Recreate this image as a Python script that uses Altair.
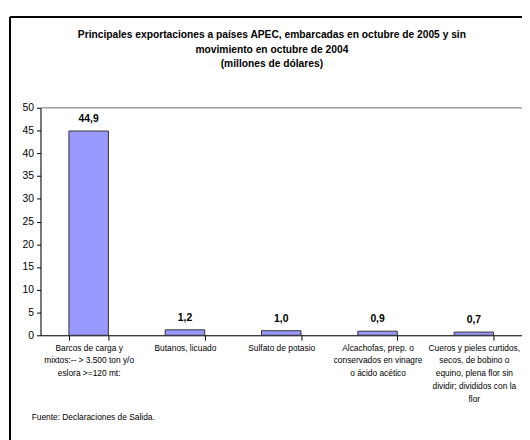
import altair as alt
import pandas as pd

categories = [
    "Barcos de carga y|mixtos:-- > 3.500 ton y/o|eslora >=120 mt:",
    "Butanos, licuado",
    "Sulfato de potasio",
    "Alcachofas, prep. o|conservados en vinagre|o ácido acético",
    "Cueros y pieles curtidos,|secos, de bobino o|equino, plena flor sin|dividir; divididos con la|flor",
]
values = [44.9, 1.2, 1.0, 0.9, 0.7]
title_lines = [
    "Principales exportaciones a países APEC, embarcadas en octubre de 2005 y sin",
    "movimiento en octubre de 2004",
    "(millones de dólares)",
]
source_note = ["Fuente: Declaraciones de Salida."]
y_ticks = list(range(0, 51, 5))
y_max = [50]

FONT = "Liberation Sans"
df = pd.DataFrame({"cat": categories, "val": values})

x_enc = alt.X(
    "cat:N",
    sort=categories,
    title=None,
    scale=alt.Scale(paddingInner=0.59, paddingOuter=0.295),
    axis=alt.Axis(
        labelExpr="split(datum.label, '|')",
        labelAngle=0,
        labelFont=FONT,
        labelFontSize=8.5,
        labelLineHeight=13,
        labelColor="black",
        labelPadding=3,
        labelLimit=0,
        tickBand="extent",
        tickSize=5,
        tickColor="black",
        domainColor="black",
        labelBaseline="top",
    ),
)
y_axis = alt.Axis(
    values=y_ticks,
    tickCount=11,
    grid=False,
    labelFont=FONT,
    labelFontSize=10.5,
    labelColor="black",
    tickColor="black",
    tickSize=4,
    domainColor="black",
    labelPadding=3,
    labelOverlap=False,
)
y_enc = alt.Y("val:Q", title=None, scale=alt.Scale(domain=[0, 50], nice=False), axis=y_axis)

bars = alt.Chart(df).mark_bar(
    color="#9999FF", stroke="#333333", strokeWidth=1
).encode(x=x_enc, y=y_enc)

labels = alt.Chart(df).transform_calculate(
    lbl="replace(format(datum.val, '.1f'), '.', ',')"
).mark_text(
    font=FONT, fontSize=10.5, fontWeight="bold", color="black",
    baseline="alphabetic", dy=-9
).encode(x=alt.X("cat:N", sort=categories), y=y_enc, text="lbl:N")

top_line = alt.Chart(pd.DataFrame({"val": y_max})).mark_rule(
    color="#808080", strokeWidth=1
).encode(y=y_enc)

frame_left = alt.Chart(df).mark_rule(color="black", strokeWidth=1.5).encode(
    x=alt.value(-31), y=alt.value(-92), y2=alt.value(400)
)
frame_top = alt.Chart(df).mark_rule(color="black", strokeWidth=1.5).encode(
    x=alt.value(-31), x2=alt.value(600), y=alt.value(-92)
)

title_df = pd.DataFrame({"t": ["\n".join(title_lines)]})
title = alt.Chart(title_df).mark_text(
    font=FONT, fontSize=10.4, fontWeight="bold", color="black",
    align="center", baseline="top", lineBreak="\n", lineHeight=15
).encode(x=alt.value(235), y=alt.value(-79), text="t:N")

note = alt.Chart(pd.DataFrame({"t": source_note})).mark_text(
    font=FONT, fontSize=8.5, color="black", align="left", baseline="middle"
).encode(x=alt.value(-9), y=alt.value(314), text="t:N")

chart = alt.layer(bars, top_line, labels, frame_left, frame_top, title, note).properties(
    width=489,
    height=231,
    padding={"left": 33, "top": 98, "right": 0, "bottom": 103},
    autosize=alt.AutoSizeParams(type="none"),
).configure_view(stroke=None).configure(background="white")

chart.save("out.html", embed_options={"renderer": "svg", "actions": False})
